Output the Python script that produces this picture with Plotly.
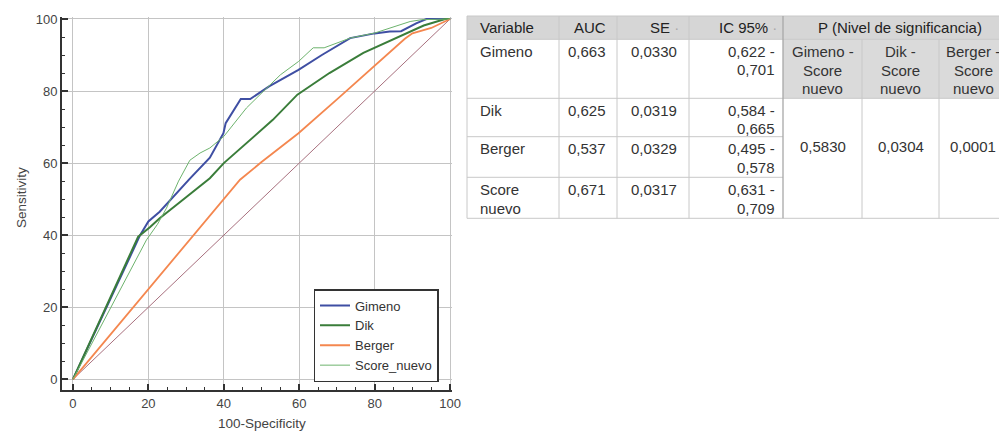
import plotly.graph_objects as go

# ---------------- data ----------------
fpr_gimeno = [0, 17.8, 20, 23, 31, 36.3, 39.9, 40.5, 44.5, 47, 52, 59.8, 66, 73.5, 80, 84, 87, 91, 93.7, 100]
sens_gimeno = [0, 40, 43.8, 46.5, 55.7, 61.5, 68.3, 71.1, 77.8, 77.8, 81.3, 85.9, 90, 94.7, 96, 96.5, 96.6, 98.8, 100, 100]

fpr_dik = [0, 17.3, 20.4, 23, 30, 36.3, 40, 46, 53, 59.5, 68, 77, 85, 93, 98.7, 100]
sens_dik = [0, 39.6, 42.2, 44.7, 50.5, 55.8, 60, 65.5, 72, 79, 85, 90.6, 94.5, 98.2, 100, 100]

fpr_berger = [0, 16, 30, 40, 44.3, 50, 59.8, 70, 80, 88, 90, 95, 100]
sens_berger = [0, 20, 37.5, 50, 55.4, 60.3, 68.3, 77.7, 87, 94.5, 96, 97.5, 100]

fpr_score = [0, 19.5, 22.4, 24.8, 28, 31, 33.7, 36.3, 40, 46, 49.6, 55, 59.8, 63.7, 66.6, 70, 73.5, 80, 89.4, 92.5, 100]
sens_score = [0, 38.7, 43, 47.5, 55, 60.8, 62.8, 64.2, 67.4, 75.3, 79, 84.5, 88.2, 92, 92, 93.3, 94.7, 96.1, 99.3, 99.8, 100]

diag_x = [0, 100]
diag_y = [0, 100]

tick_vals = [0, 20, 40, 60, 80, 100]

# table data
tbl_variables = ["Gimeno", "Dik", "Berger", "Score nuevo"]
tbl_auc = ["0,663", "0,625", "0,537", "0,671"]
tbl_se = ["0,0330", "0,0319", "0,0329", "0,0317"]
tbl_ic_low = ["0,622", "0,584", "0,495", "0,631"]
tbl_ic_high = ["0,701", "0,665", "0,578", "0,709"]
tbl_headers = ["Variable", "AUC", "SE", "IC 95%", "P (Nivel de significancia)"]
tbl_p_pairs = [["Gimeno -", "Score", "nuevo"], ["Dik -", "Score", "nuevo"], ["Berger -", "Score", "nuevo"]]
tbl_p_values = ["0,5830", "0,0304", "0,0001"]

# ---------------- figure ----------------
FONT = "Liberation Sans, Arial, Helvetica, sans-serif"
OX, OY = 8, 8                      # page body margin
PL, PR, PT, PB = 62, 452, 17, 390  # plot area in page pixels
W, H = 1007 - OX, 435 - OY


def X(px):
    return (px - PL) / (PR - PL)


def Y(py):
    return (PB - py) / (PB - PT)


fig = go.Figure()
fig.add_trace(go.Scatter(x=diag_x, y=diag_y, mode="lines", line=dict(color="#a8707e", width=1),
                         showlegend=False, hoverinfo="skip"))
fig.add_trace(go.Scatter(x=fpr_gimeno, y=sens_gimeno, mode="lines", name="Gimeno",
                         line=dict(color="#3f4fa3", width=2)))
fig.add_trace(go.Scatter(x=fpr_dik, y=sens_dik, mode="lines", name="Dik",
                         line=dict(color="#3a7d3a", width=2)))
fig.add_trace(go.Scatter(x=fpr_berger, y=sens_berger, mode="lines", name="Berger",
                         line=dict(color="#f4874f", width=1.8)))
fig.add_trace(go.Scatter(x=fpr_score, y=sens_score, mode="lines", name="Score_nuevo",
                         line=dict(color="#6db36d", width=1)))

axis_common = dict(
    tickvals=tick_vals, ticks="inside", ticklen=6, tickwidth=2, tickcolor="#333",
    showline=True, linecolor="#333", linewidth=2, showgrid=True, gridcolor="#c4c4c4", gridwidth=1,
    zeroline=False, tickfont=dict(family=FONT, size=13, color="#444"),
    minor=dict(dtick=5, ticks="inside", ticklen=3, tickwidth=1, tickcolor="#333", showgrid=False),
)
fig.update_xaxes(range=[-2.9, 100.5], ticklabelstandoff=0, **axis_common)
fig.update_yaxes(range=[-2.97, 100.55], ticklabelstandoff=0, **axis_common)

fig.update_layout(
    width=W, height=H, autosize=False,
    margin=dict(l=PL - OX, r=(W + OX) - PR, t=PT - OY, b=(H + OY) - PB, autoexpand=False),
    plot_bgcolor="white", paper_bgcolor="white",
    font=dict(family=FONT, color="#333"),
    legend=dict(x=X(376), y=Y(335.5), xanchor="center", yanchor="middle",
                bgcolor="white", bordercolor="#333", borderwidth=1.5,
                font=dict(family=FONT, size=13, color="#333")),
)

annotations = []
shapes = []

# axis titles
annotations.append(dict(x=X(262), y=Y(423), xref="paper", yref="paper", text="100-Specificity",
                        xanchor="center", yanchor="middle",
                        showarrow=False, font=dict(family=FONT, size=13.5, color="#444")))
annotations.append(dict(x=X(21), y=Y(198), xref="paper", yref="paper", text="Sensitivity", textangle=-90,
                        xanchor="center", yanchor="middle",
                        showarrow=False, font=dict(family=FONT, size=13.5, color="#444")))

# ---------------- table ----------------
col_edges = [467, 559, 617, 689, 783, 862, 939, 1016]
row_edges = [16, 39.3, 98.3, 136.7, 177.3, 218.3]
GRID = "#c8c8c8"
TFS = 15


def rect(x0, y0, x1, y1, fill):
    shapes.append(dict(type="rect", xref="paper", yref="paper", x0=X(x0), x1=X(x1), y0=Y(y0), y1=Y(y1),
                       fillcolor=fill, line=dict(width=0), layer="below"))


def hline(y, x0, x1, color=GRID, w=1):
    shapes.append(dict(type="line", xref="paper", yref="paper", x0=X(x0), x1=X(x1), y0=Y(y), y1=Y(y),
                       line=dict(color=color, width=w)))


def vline(x, y0, y1, color=GRID, w=1):
    shapes.append(dict(type="line", xref="paper", yref="paper", x0=X(x), x1=X(x), y0=Y(y0), y1=Y(y1),
                       line=dict(color=color, width=w)))


def txt(x, y, s, anchor, color="#222"):
    annotations.append(dict(x=X(x), y=Y(y), xref="paper", yref="paper", text=s, showarrow=False,
                            xanchor=anchor, yanchor="middle", align=anchor,
                            font=dict(family=FONT, size=TFS, color=color)))


rect(col_edges[0], row_edges[0], col_edges[-1], row_edges[1], "#d6d6d6")
rect(col_edges[4], row_edges[1], col_edges[-1], row_edges[2], "#dadada")

for i, y in enumerate(row_edges):
    if i in (3, 4):
        hline(y, col_edges[0], col_edges[4])
    else:
        hline(y, col_edges[0], col_edges[-1])
for j, x in enumerate(col_edges):
    if j in (5, 6):
        vline(x, row_edges[1], row_edges[-1])
    elif j == 4:
        vline(x, row_edges[0], row_edges[-1], color="#a8a8a8", w=1.3)
    else:
        vline(x, row_edges[0], row_edges[-1])

dot = " <span style='color:#aaa'>·</span>"
hy = (row_edges[0] + row_edges[1]) / 2
txt(col_edges[0] + 11, hy, tbl_headers[0], "left")
txt(col_edges[2] - 9, hy, tbl_headers[1], "right")
txt(col_edges[3] - 8, hy, tbl_headers[2] + dot, "right")
txt(col_edges[4] - 4, hy, tbl_headers[3] + dot, "right")
txt(900, hy, tbl_headers[4], "center")

LS = 18.5
for i in range(len(tbl_variables)):
    y1 = row_edges[i + 1] + 12.2
    for k, part in enumerate(tbl_variables[i].split(" ")):
        txt(col_edges[0] + 11, y1 + k * LS, part, "left", "#333")
    txt(col_edges[2] - 9, y1, tbl_auc[i], "right", "#333")
    txt(col_edges[3] - 10, y1, tbl_se[i], "right", "#333")
    txt(col_edges[4] - 6, y1, tbl_ic_low[i] + " -", "right", "#333")
    txt(col_edges[4] - 6, y1 + LS, tbl_ic_high[i], "right", "#333")

p_centers = [822.5, 900.5, 973]
for j, lines in enumerate(tbl_p_pairs):
    for k, part in enumerate(lines):
        txt(p_centers[j], 51.7 + k * LS, part, "center", "#333")
    txt(p_centers[j], 146.7, tbl_p_values[j], "center", "#333")

fig.update_layout(annotations=annotations, shapes=shapes)
fig.write_html("out.html")
